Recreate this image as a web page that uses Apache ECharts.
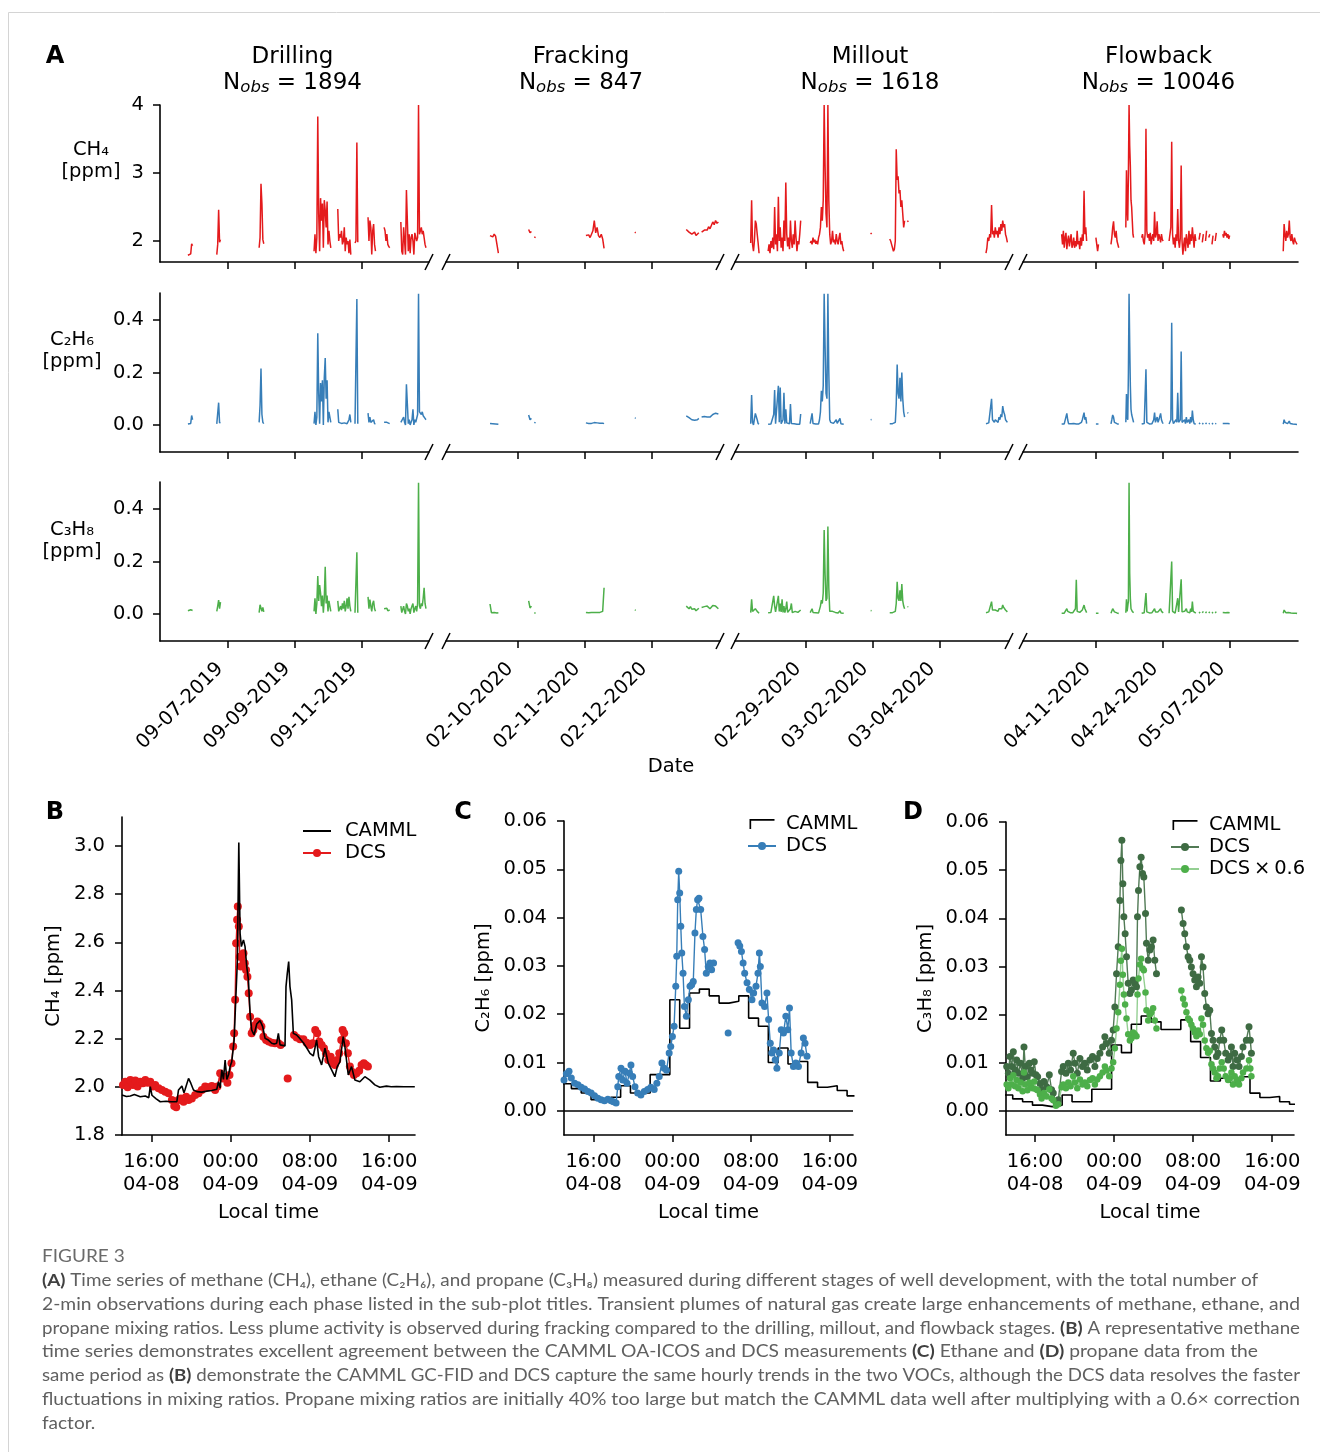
<!DOCTYPE html>
<html>
<head>
<meta charset="utf-8">
<script src="https://cdn.jsdelivr.net/npm/echarts@6/dist/echarts.min.js"></script>
<style>
  html, body { margin: 0; padding: 0; background: #fff; }
  #chart { width: 1320px; height: 1452px; }
</style>
</head>
<body>
<div id="chart"></div>
<script>
// ---------------- Panel A: well-development stages ----------------
const phases = ['Drilling', 'Fracking', 'Millout', 'Flowback'];
const nObs = [1894, 847, 1618, 10046];
const speciesLabels = ['CH₄\n[ppm]', 'C₂H₆\n[ppm]', 'C₃H₈\n[ppm]'];
const speciesColors = ['#e41a1c', '#377eb8', '#4daf4a'];

// visible date window of each stage
const phaseRanges = [
  ['2019-09-04T23:20', '2019-09-13T00:00'],
  ['2020-02-08T22:15', '2020-02-13T00:20'],
  ['2020-02-26T21:05', '2020-03-06T01:30'],
  ['2020-03-27T22:30', '2020-05-20T03:30']
];
const drillingTicks = ['09-07-2019', '09-09-2019', '09-11-2019'];
const frackingTicks = ['02-10-2020', '02-11-2020', '02-12-2020'];
const milloutTicks = ['02-29-2020', '03-02-2020', '03-04-2020'];
const flowbackTicks = ['04-11-2020', '04-24-2020', '05-07-2020'];

// each measurement period: [start, minutes between samples]
const drillingSegs = [
  ['2019-09-05T19:20', 40], ['2019-09-06T16:00', 40], ['2019-09-07T22:20', 40],
  ['2019-09-09T13:40', 40], ['2019-09-10T06:40', 40], ['2019-09-10T19:00', 40],
  ['2019-09-11T04:20', 40], ['2019-09-11T15:50', 40], ['2019-09-12T03:50', 40]
];
const drillingCH4 = [
  [1.79, 1.79, 1.80, 1.81, 1.96, 1.93],
  [1.80, 1.95, 2.46, 1.98, 2.02],
  [1.90, 2.05, 2.84, 2.55, 2.02, 1.96],
  [1.85, 2.10, 1.82, 2.05, 3.83, 2.40, 1.85, 2.63, 2.30, 2.55, 1.90, 2.60, 2.45, 2.20, 2.58, 1.95, 2.15, 2.00, 1.90],
  [2.47, 2.00, 2.10, 2.05, 2.15, 1.95, 2.00, 2.20, 1.85, 2.05, 1.95, 2.00, 1.82, 2.02, 1.80],
  [1.97, 2.00, 3.45, 1.98],
  [2.35, 2.00, 2.30, 2.20, 1.80, 2.15, 2.25, 1.95, 1.85],
  [2.20, 2.15, 2.00, 2.10, 1.95, 1.92, 1.90],
  [2.28, 1.85, 1.80, 2.20, 2.00, 1.80, 2.75, 2.30, 1.85, 2.10, 1.82, 2.05, 2.10, 2.00, 1.80, 2.12, 2.10, 2.00, 2.05, 4.00, 2.10, 2.15, 2.20, 2.10, 2.15, 2.05, 1.95, 1.90]
];
const drillingC2H6 = [
  [0.004, 0.003, 0.004, 0.006, 0.036, 0.020],
  [0.004, 0.010, 0.085, 0.008, 0.010],
  [0.010, 0.075, 0.215, 0.040, 0.010, 0.005],
  [0.005, 0.050, 0.000, 0.030, 0.350, 0.120, 0.005, 0.160, 0.090, 0.170, 0.000, 0.180, 0.255, 0.100, 0.170, 0.010, 0.050, 0.045, 0.010],
  [0.060, 0.010, 0.005, 0.004, 0.006, 0.003, 0.005, 0.008, 0.004, 0.006, 0.005, 0.007, 0.020, 0.040, 0.010],
  [0.005, 0.010, 0.480, 0.005],
  [0.045, 0.010, 0.030, 0.010, 0.005, 0.010, 0.020, 0.005, 0.005],
  [0.010, 0.015, 0.008, 0.010, 0.006, 0.004, 0.005],
  [0.010, 0.005, 0.005, 0.030, 0.010, 0.000, 0.155, 0.080, 0.005, 0.020, 0.000, 0.010, 0.020, 0.060, 0.000, 0.020, 0.010, 0.005, 0.040, 0.500, 0.050, 0.045, 0.040, 0.050, 0.035, 0.030, 0.025, 0.020]
];
const drillingC3H8 = [
  [0.012, 0.015, 0.014, 0.016, 0.018, 0.013],
  [0.010, 0.030, 0.053, 0.020, 0.045],
  [0.005, 0.035, 0.030, 0.010, 0.025, 0.008],
  [0.010, 0.060, 0.000, 0.040, 0.145, 0.050, 0.110, 0.080, 0.030, 0.070, 0.005, 0.060, 0.180, 0.040, 0.070, 0.010, 0.050, 0.030, 0.010],
  [0.050, 0.010, 0.020, 0.030, 0.015, 0.040, 0.020, 0.050, 0.010, 0.030, 0.060, 0.020, 0.065, 0.030, 0.010],
  [0.005, 0.010, 0.235, 0.005],
  [0.065, 0.020, 0.055, 0.030, 0.010, 0.040, 0.050, 0.020, 0.010],
  [0.020, 0.025, 0.015, 0.022, 0.012, 0.010, 0.015],
  [0.030, 0.005, 0.010, 0.030, 0.010, 0.000, 0.040, 0.030, 0.010, 0.020, 0.000, 0.020, 0.030, 0.040, 0.005, 0.020, 0.030, 0.010, 0.040, 0.500, 0.030, 0.020, 0.040, 0.030, 0.060, 0.100, 0.040, 0.020]
];

const frackingSegs = [
  ['2020-02-09T14:00', 30], ['2020-02-10T03:50', 30], ['2020-02-11T00:20', 30],
  ['2020-02-11T17:50', 20], ['2020-02-12T12:15', 30]
];
const frackingCH4 = [
  [2.08, 2.09, 2.06, 2.10, 2.07, 2.09, 1.82],
  [2.17, 2.12, 2.14, null, 2.06, 2.05],
  [2.08, 2.06, 2.09, 2.05, 2.10, 2.15, 2.30, 2.12, 2.20, 2.08, 2.05, 2.10, 2.03, 1.89],
  [2.13, 2.12],
  [2.17, 2.15, 2.13, 2.12, 2.10, 2.11, 2.13, 2.08, 2.09, 2.12, null, 2.13, 2.15, 2.16, 2.14, 2.16, 2.21, 2.18, 2.19, 2.28, 2.24, 2.30, 2.26, 2.28]
];
const frackingC2H6 = [
  [0.006, 0.007, 0.005, 0.006, 0.004, 0.005, 0.003],
  [0.038, 0.020, 0.025, null, 0.010, 0.008],
  [0.008, 0.007, 0.006, 0.007, 0.006, 0.008, 0.009, 0.007, 0.008, 0.006, 0.007, 0.006, 0.007, 0.005],
  [0.027, 0.026],
  [0.035, 0.030, 0.028, 0.025, 0.020, 0.015, 0.018, 0.013, 0.020, 0.025, null, 0.030, 0.028, 0.032, 0.025, 0.030, 0.035, 0.030, 0.032, 0.040, 0.035, 0.045, 0.040, 0.042]
];
const frackingC3H8 = [
  [0.038, 0.005, 0.004, 0.006, 0.005, 0.004, 0.005],
  [0.050, 0.023, 0.030, null, 0.004, 0.004],
  [0.006, 0.007, 0.005, 0.006, 0.006, 0.007, 0.006, 0.007, 0.006, 0.008, 0.006, 0.007, 0.010, 0.100],
  [0.015, 0.014],
  [0.030, 0.025, 0.020, 0.028, 0.018, 0.015, 0.020, 0.012, 0.018, 0.022, null, 0.025, 0.020, 0.028, 0.022, 0.030, 0.025, 0.020, 0.026, 0.032, 0.028, 0.030, 0.025, 0.020]
];

const milloutSegs = [
  ['2020-02-27T08:20', 40], ['2020-02-27T20:50', 40], ['2020-02-29T03:00', 40],
  ['2020-03-01T22:20', 40], ['2020-03-02T12:00', 40], ['2020-03-05T09:00', 40]
];
const milloutCH4 = [
  [1.97, 2.60, 1.95, 1.85, 2.00, 2.30, 2.25, 2.10, 1.97, 1.82],
  [1.85, 1.95, 1.82, 2.00, 1.90, 2.05, 1.88, 2.50, 1.95, 2.10, 1.85, 2.65, 2.00, 2.20, 1.90, 2.05, 1.85, 2.30, 2.00, 2.86, 2.10, 1.92, 2.05, 1.88, 2.30, 2.00, 1.90, 2.10, 1.95, 2.30, 2.05, 1.85, 2.00, 1.95, 2.10, 2.30],
  [1.97, 2.00, 1.95, 2.05, 1.98, 2.02, 1.96, 2.00, 1.95, 2.05, 2.10, 2.20, 2.50, 2.30, 2.60, 4.00, 3.10, 2.40, 2.20, 4.00, 2.60, 2.10, 1.95, 2.00, 2.15, 1.98, 2.02, 1.95, 2.10, 2.00, 1.95, 2.05, 2.12, 1.95, 2.00, 1.90, 1.85],
  [2.12, 2.10],
  [2.03, 2.00, 1.95, 1.90, 1.85, 1.88, 2.00, 3.35, 2.90, 2.95, 2.70, 2.75, 2.50, 2.60, 2.40, 2.20, 2.30, null, null, 2.30, 2.28],
  [1.82, 1.90, 2.05, 2.00, 2.10, 2.05, 2.53, 2.10, 2.15, 2.05, 2.20, 2.10, 2.15, 2.05, 2.20, 2.10, 2.25, 2.15, 2.30, 2.20, 2.25, 2.10, 2.05, 1.98]
];
const milloutC2H6 = [
  [0.005, 0.114, 0.010, 0.000, 0.005, 0.044, 0.040, 0.020, 0.005, 0.003],
  [0.003, 0.005, 0.002, 0.004, 0.003, 0.010, 0.040, 0.133, 0.005, 0.010, 0.003, 0.149, 0.010, 0.143, 0.005, 0.004, 0.020, 0.123, 0.005, 0.060, 0.008, 0.004, 0.003, 0.005, 0.080, 0.006, 0.003, 0.004, 0.005, 0.010, 0.004, 0.003, 0.005, 0.004, 0.003, 0.042],
  [0.005, 0.004, 0.044, 0.006, 0.004, 0.005, 0.004, 0.006, 0.005, 0.004, 0.020, 0.050, 0.130, 0.090, 0.150, 0.500, 0.300, 0.120, 0.100, 0.500, 0.200, 0.020, 0.010, 0.008, 0.010, 0.006, 0.005, 0.008, 0.020, 0.006, 0.005, 0.006, 0.025, 0.005, 0.004, 0.003, 0.003],
  [0.020, 0.021],
  [0.005, 0.004, 0.003, 0.005, 0.004, 0.006, 0.010, 0.080, 0.230, 0.120, 0.100, 0.180, 0.090, 0.200, 0.100, 0.050, 0.030, null, null, 0.047, 0.045],
  [0.005, 0.010, 0.010, 0.008, 0.015, 0.010, 0.100, 0.020, 0.015, 0.010, 0.020, 0.015, 0.020, 0.010, 0.030, 0.020, 0.040, 0.030, 0.072, 0.050, 0.040, 0.020, 0.015, 0.010]
];
const milloutC3H8 = [
  [0.005, 0.056, 0.010, 0.003, 0.005, 0.020, 0.018, 0.010, 0.005, 0.003],
  [0.005, 0.003, 0.004, 0.006, 0.005, 0.010, 0.069, 0.030, 0.008, 0.006, 0.005, 0.069, 0.010, 0.040, 0.008, 0.056, 0.006, 0.030, 0.005, 0.020, 0.047, 0.006, 0.005, 0.004, 0.020, 0.040, 0.005, 0.004, 0.006, 0.010, 0.005, 0.004, 0.006, 0.005, 0.004, 0.015],
  [0.005, 0.004, 0.020, 0.006, 0.005, 0.004, 0.005, 0.006, 0.005, 0.004, 0.010, 0.030, 0.053, 0.040, 0.080, 0.320, 0.150, 0.050, 0.060, 0.333, 0.100, 0.010, 0.006, 0.005, 0.010, 0.006, 0.004, 0.006, 0.010, 0.005, 0.004, 0.005, 0.012, 0.004, 0.005, 0.003, 0.003],
  [0.013, 0.012],
  [0.005, 0.004, 0.003, 0.005, 0.004, 0.006, 0.010, 0.040, 0.123, 0.060, 0.050, 0.090, 0.050, 0.114, 0.050, 0.030, 0.020, null, null, 0.028, 0.027],
  [0.005, 0.010, 0.010, 0.008, 0.012, 0.010, 0.047, 0.015, 0.012, 0.010, 0.015, 0.012, 0.015, 0.010, 0.020, 0.015, 0.025, 0.020, 0.034, 0.025, 0.020, 0.015, 0.010, 0.008]
];

const flowbackSegs = [
  ['2020-04-04T10:00', 240], ['2020-04-11T01:00', 240], ['2020-04-13T23:00', 240],
  ['2020-04-16T20:00', 180], ['2020-04-19T21:30', 240], ['2020-04-25T05:00', 240],
  ['2020-05-01T00:00', 300], ['2020-05-05T14:00', 240], ['2020-05-17T07:00', 240]
];
const flowbackCH4 = [
  [2.10, 1.95, 2.15, 1.90, 2.05, 2.12, 1.88, 2.00, 2.08, 1.92, 2.02, 2.10, 1.90, 1.95, 2.05, 1.90, 2.00, 1.92, 2.15, 1.95, 2.00, 1.88, 2.05, 1.93, 2.10, 2.00, 2.74, 2.10, 2.20, 2.00],
  [2.05, 2.06, 1.85, 1.95],
  [1.95, 2.05, 2.20, 2.29, 2.10, 2.05, 2.15, 2.00, 1.98, 1.90],
  [2.20, 3.04, 2.50, 2.30, 3.00, 4.00, 3.40, 3.10, 2.60, 2.50, 2.30, 2.10, 2.05],
  [2.05, 2.10, 2.00, 1.95, 2.10, 3.65, 2.15, 2.05, 2.10, 2.00, 2.12, 1.95, 2.05, 2.10, 2.00, 2.43, 2.05, 2.10, 2.29, 2.00, 2.10, 2.05, 1.98, 2.10, 2.02, 2.00],
  [2.00, 2.10, 2.20, 3.46, 2.10, 1.95, 2.05, 1.90, 2.10, 2.00, 2.47, 2.00, 1.90, 2.05, 3.11, 2.00, 1.80, 1.95, 2.05, 1.85, 2.10, 2.00, 1.90, 2.15, 1.95, 2.10, 2.00, 2.20, 2.05, 1.90, 2.10, 2.00],
  [2.02, 2.12, null, 1.98, 2.10, null, 2.00, 2.15, null, 2.05, 2.10, null, 1.95, 2.08, null, 2.00, 2.12, null],
  [2.10, 2.05, 2.15, 2.08, 2.12, 2.05, 2.10, 2.03, 2.08],
  [1.85, 2.25, 2.10, 2.00, 2.15, 2.05, 2.10, 2.30, 2.05, 2.00, 2.10, 2.00, 1.95, 2.05, 2.00, 1.98, 1.95]
];
const flowbackC2H6 = [
  [0.004, 0.005, 0.006, 0.004, 0.005, 0.010, 0.044, 0.020, 0.005, 0.004, 0.006, 0.005, 0.004, 0.005, 0.006, 0.004, 0.005, 0.004, 0.006, 0.005, 0.004, 0.005, 0.006, 0.010, 0.020, 0.015, 0.047, 0.020, 0.030, 0.005],
  [0.004, 0.004, 0.003, 0.004],
  [0.004, 0.020, 0.038, 0.030, 0.010, 0.005, 0.015, 0.005, 0.004, 0.003],
  [0.010, 0.118, 0.030, 0.020, 0.200, 0.500, 0.310, 0.150, 0.060, 0.040, 0.030, 0.020, 0.010],
  [0.004, 0.005, 0.004, 0.006, 0.010, 0.212, 0.010, 0.005, 0.006, 0.004, 0.005, 0.006, 0.005, 0.010, 0.020, 0.047, 0.010, 0.015, 0.030, 0.010, 0.020, 0.015, 0.044, 0.020, 0.010, 0.005],
  [0.004, 0.010, 0.020, 0.390, 0.020, 0.005, 0.010, 0.004, 0.020, 0.010, 0.123, 0.010, 0.005, 0.020, 0.280, 0.010, 0.004, 0.010, 0.020, 0.005, 0.030, 0.010, 0.005, 0.020, 0.005, 0.030, 0.010, 0.055, 0.020, 0.005, 0.010, 0.004],
  [0.004, 0.008, null, 0.003, 0.007, null, 0.004, 0.008, null, 0.004, 0.006, null, 0.003, 0.007, null, 0.004, 0.006, null],
  [0.006, 0.005, 0.008, 0.006, 0.007, 0.005, 0.006, 0.004, 0.005],
  [0.003, 0.020, 0.010, 0.005, 0.008, 0.005, 0.006, 0.015, 0.006, 0.004, 0.005, 0.004, 0.003, 0.004, 0.003, 0.003, 0.002]
];
const flowbackC3H8 = [
  [0.003, 0.004, 0.005, 0.003, 0.004, 0.008, 0.020, 0.010, 0.004, 0.003, 0.005, 0.004, 0.003, 0.005, 0.004, 0.006, 0.020, 0.130, 0.010, 0.005, 0.004, 0.006, 0.005, 0.010, 0.015, 0.010, 0.034, 0.020, 0.025, 0.005],
  [0.003, 0.003, 0.002, 0.003],
  [0.003, 0.010, 0.020, 0.015, 0.008, 0.004, 0.010, 0.004, 0.003, 0.002],
  [0.005, 0.056, 0.010, 0.010, 0.050, 0.500, 0.155, 0.060, 0.020, 0.015, 0.010, 0.008, 0.005],
  [0.003, 0.004, 0.003, 0.005, 0.010, 0.080, 0.008, 0.004, 0.005, 0.004, 0.005, 0.004, 0.005, 0.008, 0.010, 0.020, 0.008, 0.010, 0.015, 0.008, 0.010, 0.008, 0.020, 0.010, 0.006, 0.004],
  [0.003, 0.008, 0.010, 0.200, 0.010, 0.004, 0.008, 0.003, 0.010, 0.008, 0.060, 0.008, 0.004, 0.010, 0.132, 0.008, 0.003, 0.006, 0.010, 0.004, 0.020, 0.008, 0.004, 0.010, 0.004, 0.020, 0.008, 0.047, 0.010, 0.004, 0.008, 0.003],
  [0.003, 0.008, null, 0.004, 0.010, null, 0.003, 0.009, null, 0.004, 0.008, null, 0.003, 0.007, null, 0.004, 0.009, null],
  [0.006, 0.004, 0.008, 0.005, 0.007, 0.005, 0.006, 0.004, 0.005],
  [0.003, 0.015, 0.010, 0.005, 0.008, 0.005, 0.006, 0.012, 0.005, 0.004, 0.005, 0.004, 0.003, 0.004, 0.003, 0.003, 0.002]
];

// ---------------- Panels B-D: one day, hours counted from 04-08 00:00 ----------------
const localTicks = [16, 24, 32, 40];
const localTickLabels = ['16:00\n04-08', '00:00\n04-09', '08:00\n04-09', '16:00\n04-09'];

const camlCH4 = [[13.05,1.966],[13.5,1.960],[13.89,1.962],[14.3,1.968],[14.89,1.959],[15.4,1.962],[15.75,1.955],[15.9,2.001],[16.07,1.965],[16.5,1.950],[16.91,1.938],[17.5,1.940],[18.0,1.938],[18.58,1.938],[18.75,1.987],[19.09,2.003],[19.3,1.975],[19.42,1.990],[19.76,2.035],[19.99,2.015],[20.26,1.987],[20.6,1.980],[21.1,1.978],[21.6,1.982],[22.1,1.985],[22.61,1.990],[22.78,2.021],[22.95,1.995],[23.11,2.070],[23.28,2.031],[23.45,2.111],[23.62,2.031],[23.8,2.050],[23.95,2.084],[24.12,2.104],[24.36,2.194],[24.52,2.361],[24.69,2.527],[24.83,3.014],[24.96,2.637],[25.09,2.582],[25.3,2.610],[25.46,2.582],[25.63,2.499],[25.8,2.444],[25.97,2.305],[26.13,2.236],[26.37,2.215],[26.64,2.261],[26.97,2.275],[27.24,2.250],[27.48,2.201],[27.81,2.194],[28.15,2.181],[28.4,2.178],[28.65,2.181],[28.82,2.222],[28.99,2.174],[29.49,2.170],[29.59,2.416],[29.72,2.471],[29.86,2.520],[29.99,2.416],[30.16,2.361],[30.33,2.222],[30.66,2.215],[31.0,2.200],[31.34,2.183],[31.7,2.160],[32.01,2.139],[32.34,2.128],[32.68,2.194],[32.88,2.125],[33.18,2.091],[33.52,2.160],[33.85,2.098],[34.19,2.070],[34.52,2.042],[34.76,2.084],[35.03,2.104],[35.36,2.208],[35.53,2.167],[35.87,2.049],[36.2,2.084],[36.54,2.028],[37.04,2.021],[37.54,2.042],[38.05,2.028],[38.55,2.008],[39.05,1.998],[39.72,2.003],[40.2,2.000],[40.73,2.001],[41.5,2.000],[42.58,2.000]];

const dcsCH4 = [[13.15,2.008],[13.38,2.021],[13.62,1.998],[13.89,2.028],[14.15,2.008],[14.39,2.026],[14.62,2.001],[14.89,2.021],[15.16,2.015],[15.4,2.028],[15.63,2.017],[15.9,2.021],[16.17,2.001],[16.4,2.008],[16.74,1.994],[17.07,1.987],[17.41,1.980],[17.74,1.973],[18.08,1.945],[18.32,1.920],[18.52,1.915],[18.75,1.945],[18.99,1.952],[19.26,1.938],[19.52,1.959],[19.76,1.945],[20.09,1.952],[20.43,1.966],[20.77,1.973],[21.1,1.987],[21.44,2.001],[21.77,1.998],[22.11,2.003],[22.44,1.987],[22.68,2.001],[22.95,2.056],[23.21,2.035],[23.45,2.042],[23.68,2.017],[23.89,2.049],[24.09,2.098],[24.26,2.167],[24.36,2.222],[24.46,2.361],[24.56,2.596],[24.66,2.693],[24.73,2.748],[24.83,2.665],[24.93,2.540],[25.03,2.499],[25.16,2.540],[25.3,2.554],[25.43,2.513],[25.56,2.485],[25.7,2.457],[25.83,2.388],[25.97,2.291],[26.13,2.222],[26.3,2.236],[26.5,2.257],[26.7,2.271],[26.91,2.264],[27.11,2.250],[27.31,2.208],[27.58,2.194],[27.85,2.188],[28.15,2.183],[28.48,2.181],[28.82,2.181],[29.05,2.174],[29.4,null],[29.76,2.035],[30.1,null],[30.4,2.215],[30.66,2.205],[31.0,2.197],[31.34,2.197],[31.67,2.183],[32.01,2.174],[32.28,2.181],[32.54,2.236],[32.74,2.222],[32.95,2.188],[33.18,2.174],[33.42,2.160],[33.62,2.139],[33.85,2.111],[34.09,2.125],[34.29,2.098],[34.52,2.091],[34.76,2.111],[34.96,2.139],[35.16,2.194],[35.3,2.236],[35.46,2.222],[35.63,2.181],[35.83,2.139],[36.03,2.084],[36.23,2.063],[36.44,2.049],[36.7,2.056],[36.97,2.067],[37.21,2.091],[37.44,2.098],[37.64,2.091],[37.85,2.084]];

// hourly GC-FID averages: [hour the average starts, ppm]
const camlC2H6 = [[12.75,0.0056],[13.75,0.0046],[14.75,0.0037],[15.75,0.0023],[16.75,0.0019],[17.75,0.0028],[18.75,0.0052],[19.75,0.0037],[20.75,0.0037],[21.75,0.0075],[22.75,0.0075],[23.75,0.0230],[24.75,0.0171],[25.75,0.0244],[26.75,0.0252],[27.75,0.0238],[28.75,0.0223],[29.75,0.0227],[30.75,0.0238],[31.75,0.0192],[32.75,0.0175],[33.75,0.0100],[34.75,0.0130],[35.75,0.0097],[36.75,0.0102],[37.75,0.0059],[38.75,0.0049],[39.75,0.0052],[40.75,0.0042],[41.75,0.0031],[42.5,0.0031]];

const dcsC2H6 = [[13.0,0.0064],[13.24,0.0077],[13.51,0.0082],[13.74,0.0068],[14.08,0.0057],[14.42,0.0054],[14.75,0.0049],[15.09,0.0045],[15.43,0.0040],[15.76,0.0037],[16.1,0.0031],[16.44,0.0026],[16.77,0.0023],[17.11,0.0021],[17.45,0.0024],[17.78,0.0021],[18.02,0.0019],[18.29,0.0016],[18.46,0.0050],[18.56,0.0071],[18.79,0.0088],[18.96,0.0064],[19.2,0.0082],[19.4,0.0057],[19.64,0.0078],[19.8,0.0095],[19.97,0.0071],[20.21,0.0050],[20.48,0.0037],[20.81,0.0033],[21.15,0.0040],[21.49,0.0044],[21.82,0.0049],[22.16,0.0044],[22.43,0.0057],[22.67,0.0071],[22.94,0.0099],[23.17,0.0088],[23.41,0.0084],[23.68,0.0120],[23.84,0.0133],[24.01,0.0154],[24.18,0.0175],[24.35,0.0258],[24.45,0.0320],[24.55,0.0437],[24.65,0.0496],[24.75,0.0451],[24.86,0.0382],[24.96,0.0327],[25.09,0.0285],[25.23,0.0216],[25.43,0.0196],[25.63,0.0230],[25.8,0.0258],[25.97,0.0261],[26.13,0.0268],[26.3,0.0368],[26.44,0.0417],[26.57,0.0437],[26.71,0.0440],[26.88,0.0417],[27.11,0.0361],[27.28,0.0334],[27.45,0.0285],[27.65,0.0299],[27.82,0.0306],[27.99,0.0292],[28.19,0.0306],[29.0,null],[29.67,0.0161],[30.2,null],[30.68,0.0348],[30.85,0.0341],[31.02,0.0330],[31.19,0.0306],[31.35,0.0285],[31.59,0.0265],[31.82,0.0251],[32.09,0.0230],[32.26,0.0244],[32.5,0.0258],[32.7,0.0285],[32.84,0.0327],[32.94,0.0299],[33.1,0.0223],[33.37,0.0216],[33.61,0.0244],[33.78,0.0189],[33.95,0.0140],[34.11,0.0120],[34.28,0.0126],[34.45,0.0106],[34.62,0.0088],[34.86,0.0120],[35.06,0.0168],[35.29,0.0161],[35.53,0.0196],[35.73,0.0168],[35.9,0.0213],[36.07,0.0120],[36.3,0.0092],[36.54,0.0099],[36.81,0.0092],[37.08,0.0120],[37.31,0.0151],[37.48,0.0140],[37.68,0.0113]];

const camlC3H8 = [[12.75,0.0033],[13.75,0.0025],[14.75,0.0019],[15.75,0.0012],[16.75,0.0009],[17.75,0.0012],[18.75,0.0033],[19.75,0.0019],[20.75,0.0019],[21.75,0.0045],[22.75,0.0045],[23.75,0.0137],[24.75,0.0121],[25.75,0.0180],[26.75,0.0197],[27.75,0.0185],[28.75,0.0169],[29.75,0.0169],[30.75,0.0189],[31.75,0.0144],[32.75,0.0111],[33.75,0.0062],[34.75,0.0068],[35.75,0.0059],[36.75,0.0071],[37.75,0.0037],[38.75,0.0028],[39.75,0.0030],[40.75,0.0019],[41.75,0.0014],[42.3,0.0014]];

const dcsC3H8 = [[13.14,0.0092],[13.31,0.0078],[13.47,0.0113],[13.64,0.0092],[13.81,0.0123],[13.98,0.0085],[14.15,0.0106],[14.32,0.0078],[14.55,0.0099],[14.75,0.0068],[14.89,0.0133],[15.02,0.0092],[15.23,0.0071],[15.43,0.0099],[15.6,0.0085],[15.76,0.0078],[15.93,0.0102],[16.1,0.0075],[16.27,0.0071],[16.51,0.0057],[16.67,0.0044],[16.91,0.0061],[17.18,0.0050],[17.45,0.0075],[17.68,0.0044],[17.85,0.0037],[18.12,0.0019],[18.36,0.0023],[18.69,0.0082],[18.86,0.0092],[19.13,0.0078],[19.37,0.0099],[19.6,0.0085],[19.87,0.0120],[20.04,0.0099],[20.28,0.0078],[20.55,0.0109],[20.81,0.0092],[21.05,0.0099],[21.29,0.0085],[21.56,0.0106],[21.82,0.0113],[22.06,0.0092],[22.3,0.0109],[22.57,0.0120],[22.84,0.0133],[23.07,0.0154],[23.24,0.0140],[23.51,0.0120],[23.74,0.0147],[23.91,0.0168],[24.08,0.0216],[24.25,0.0285],[24.42,0.0341],[24.59,0.0437],[24.69,0.0520],[24.79,0.0562],[24.89,0.0472],[24.99,0.0403],[25.12,0.0368],[25.26,0.0320],[25.43,0.0265],[25.6,0.0244],[25.76,0.0251],[25.93,0.0272],[26.1,0.0265],[26.27,0.0258],[26.37,0.0403],[26.47,0.0458],[26.61,0.0507],[26.74,0.0527],[26.88,0.0493],[27.01,0.0486],[27.18,0.0410],[27.28,0.0348],[27.45,0.0313],[27.62,0.0334],[27.78,0.0341],[27.95,0.0355],[28.12,0.0313],[28.29,0.0285],[29.5,null],[30.81,0.0417],[30.98,0.0389],[31.15,0.0368],[31.32,0.0341],[31.49,0.0320],[31.66,0.0313],[31.82,0.0299],[31.99,0.0285],[32.16,0.0272],[32.33,0.0258],[32.5,0.0278],[32.67,0.0265],[32.84,0.0320],[33.0,0.0299],[33.17,0.0244],[33.34,0.0216],[33.51,0.0202],[33.68,0.0209],[33.85,0.0161],[34.01,0.0147],[34.18,0.0133],[34.35,0.0113],[34.52,0.0120],[34.69,0.0147],[34.89,0.0168],[35.09,0.0147],[35.29,0.0120],[35.53,0.0106],[35.7,0.0113],[35.87,0.0133],[36.03,0.0092],[36.2,0.0120],[36.44,0.0106],[36.64,0.0092],[36.88,0.0113],[37.04,0.0133],[37.38,0.0147],[37.65,0.0175],[37.78,0.0147],[37.89,0.0120]];

// corrected propane (DCS × 0.6), one value per DCS sample time above
const dcsC3H8Corrected = [0.0055,0.0047,0.0068,0.0055,0.0074,0.0051,0.0064,0.0047,0.0059,0.0041,0.0080,0.0055,0.0043,0.0059,0.0051,0.0047,0.0061,0.0045,0.0043,0.0034,0.0026,0.0037,0.0030,0.0045,0.0026,0.0022,0.0011,0.0014,0.0049,0.0055,0.0047,0.0059,0.0051,0.0072,0.0059,0.0047,0.0065,0.0055,0.0059,0.0051,0.0064,0.0068,0.0055,0.0065,0.0072,0.0080,0.0092,0.0084,0.0072,0.0088,0.0101,0.0130,0.0171,0.0205,0.0262,0.0312,0.0337,0.0283,0.0242,0.0221,0.0192,0.0159,0.0146,0.0151,0.0163,0.0159,0.0155,0.0242,0.0275,0.0304,0.0316,0.0296,0.0292,0.0246,0.0209,0.0188,0.0200,0.0205,0.0213,0.0188,0.0171,null,0.0250,0.0233,0.0221,0.0205,0.0192,0.0188,0.0179,0.0171,0.0163,0.0155,0.0167,0.0159,0.0192,0.0179,0.0146,0.0130,0.0121,0.0125,0.0097,0.0088,0.0080,0.0068,0.0072,0.0088,0.0101,0.0088,0.0072,0.0064,0.0068,0.0080,0.0055,0.0072,0.0064,0.0055,0.0068,0.0080,0.0088,0.0105,0.0088,0.0072];

// ---------------- Caption ----------------
const captionHead = 'FIGURE 3';
const captionLines = [
  '**(A)** Time series of methane (CH₄), ethane (C₂H₆), and propane (C₃H₈) measured during different stages of well development, with the total number of',
  '2-min observations during each phase listed in the sub-plot titles. Transient plumes of natural gas create large enhancements of methane, ethane, and',
  'propane mixing ratios. Less plume activity is observed during fracking compared to the drilling, millout, and flowback stages. **(B)** A representative methane',
  'time series demonstrates excellent agreement between the CAMML OA-ICOS and DCS measurements **(C)** Ethane and **(D)** propane data from the',
  'same period as **(B)** demonstrate the CAMML GC-FID and DCS capture the same hourly trends in the two VOCs, although the DCS data resolves the faster',
  'fluctuations in mixing ratios. Propane mixing ratios are initially 40% too large but match the CAMML data well after multiplying with a 0.6× correction',
  'factor.'
];
const captionLineEnds = [1258, 1300, 1300, 1258, 1300, 1300, null];

// ---------------- layout ----------------
const FONT = 'DejaVu Sans';
const INK = '#000';
const colA = [
  { left: 160, width: 269 }, { left: 446, width: 274 },
  { left: 735, width: 274 }, { left: 1023, width: 275 }
];
const rowA = [
  { top: 105, height: 157, min: 1.691, max: 4.0, ticks: [2, 3, 4], digits: 0 },
  { top: 293, height: 159, min: -0.103, max: 0.503, ticks: [0, 0.2, 0.4], digits: 1 },
  { top: 482, height: 159, min: -0.103, max: 0.503, ticks: [0, 0.2, 0.4], digits: 1 }
];
const segsByPhase = [drillingSegs, frackingSegs, milloutSegs, flowbackSegs];
const valsByPhase = [
  [drillingCH4, drillingC2H6, drillingC3H8],
  [frackingCH4, frackingC2H6, frackingC3H8],
  [milloutCH4, milloutC2H6, milloutC3H8],
  [flowbackCH4, flowbackC2H6, flowbackC3H8]
];
const ticksByPhase = [drillingTicks, frackingTicks, milloutTicks, flowbackTicks];

function parseMDY(s) {
  const [m, d, y] = s.split('-').map(Number);
  return new Date(y, m - 1, d).getTime();
}
function buildSeries(segs, vals) {
  const out = [];
  segs.forEach(([start, step], k) => {
    const t0 = new Date(start).getTime();
    vals[k].forEach((v, i) => out.push([t0 + i * step * 60000, v]));
    out.push([t0 + vals[k].length * step * 60000, null]);
  });
  return out;
}
const axisLineStyle = { color: INK, width: 1.6 };
const tickStyle = { color: INK, width: 1.5 };

const grids = [], xAxes = [], yAxes = [], series = [];

for (let r = 0; r < 3; r++) {
  for (let c = 0; c < 4; c++) {
    const idx = grids.length;
    grids.push({ left: colA[c].left, top: rowA[r].top, width: colA[c].width, height: rowA[r].height, outerBoundsMode: 'none' });
    const tickVals = ticksByPhase[c].map(parseMDY);
    const tickText = ticksByPhase[c];
    // millisecond timestamps on a plain numeric axis
    xAxes.push({
      type: 'value', gridIndex: idx, scale: true,
      min: new Date(phaseRanges[c][0]).getTime(), max: new Date(phaseRanges[c][1]).getTime(),
      axisLine: { show: true, onZero: false, lineStyle: axisLineStyle },
      axisTick: { show: true, length: 7, lineStyle: tickStyle, customValues: tickVals },
      axisLabel: {
        show: r === 2, customValues: tickVals, rotate: 45, margin: 17, padding: [0, 11, 0, 0],
        fontSize: 19.5, color: INK, fontFamily: FONT,
        formatter: v => { const i = tickVals.findIndex(t => Math.abs(t - v) < 1000); return i >= 0 ? tickText[i] : ''; }
      },
      splitLine: { show: false }, minorTick: { show: false }
    });
    yAxes.push({
      type: 'value', gridIndex: idx, min: rowA[r].min, max: rowA[r].max, show: c === 0,
      axisLine: { show: true, onZero: false, lineStyle: axisLineStyle },
      axisTick: { show: true, length: 7, lineStyle: tickStyle, customValues: rowA[r].ticks },
      axisLabel: { customValues: rowA[r].ticks, margin: 16, fontSize: 19.5, color: INK, fontFamily: FONT, formatter: v => v.toFixed(rowA[r].digits) },
      splitLine: { show: false }
    });
    series.push({
      type: 'line', name: phases[c] + ' ' + r, xAxisIndex: idx, yAxisIndex: idx,
      data: buildSeries(segsByPhase[c], valsByPhase[c][r]),
      symbol: 'none', showSymbol: false, connectNulls: false, silent: true,
      lineStyle: { color: speciesColors[r], width: 1.5 }, itemStyle: { color: speciesColors[r] }
    });
  }
}

// panels B, C, D
const lowerPanels = [
  { left: 122, top: 817, width: 293, height: 318, xmin: 13.05, xmax: 42.6, ymin: 1.8, ymax: 3.12,
    yticks: [1.8, 2.0, 2.2, 2.4, 2.6, 2.8, 3.0], digits: 1, yname: 'CH₄ [ppm]', nameGap: 58 },
  { left: 564, top: 821, width: 289, height: 314, xmin: 13.0, xmax: 42.35, ymin: -0.005, ymax: 0.06,
    yticks: [0, 0.01, 0.02, 0.03, 0.04, 0.05, 0.06], digits: 2, yname: 'C₂H₆ [ppm]', nameGap: 70 },
  { left: 1006, top: 822, width: 288, height: 313, xmin: 13.07, xmax: 42.2, ymin: -0.005, ymax: 0.06,
    yticks: [0, 0.01, 0.02, 0.03, 0.04, 0.05, 0.06], digits: 2, yname: 'C₃H₈ [ppm]', nameGap: 70 }
];
const lowerIdx = [];
lowerPanels.forEach(p => {
  const idx = grids.length;
  lowerIdx.push(idx);
  grids.push({ left: p.left, top: p.top, width: p.width, height: p.height, outerBoundsMode: 'none' });
  xAxes.push({
    type: 'value', gridIndex: idx, min: p.xmin, max: p.xmax,
    name: 'Local time', nameLocation: 'middle', nameGap: 68,
    nameTextStyle: { fontSize: 19.5, color: INK, fontFamily: FONT },
    axisLine: { show: true, onZero: false, lineStyle: axisLineStyle },
    axisTick: { show: true, length: 7, lineStyle: tickStyle, customValues: localTicks },
    axisLabel: { customValues: localTicks, margin: 15, fontSize: 19.5, lineHeight: 23, color: INK, fontFamily: FONT,
      formatter: v => { const i = localTicks.indexOf(v); return i >= 0 ? localTickLabels[i] : ''; } },
    splitLine: { show: false }
  });
  yAxes.push({
    type: 'value', gridIndex: idx, min: p.ymin, max: p.ymax,
    name: p.yname, nameLocation: 'middle', nameGap: p.nameGap, nameRotate: 90,
    nameTextStyle: { fontSize: 19.5, color: INK, fontFamily: FONT },
    axisLine: { show: true, onZero: false, lineStyle: axisLineStyle },
    axisTick: { show: true, length: 7, lineStyle: tickStyle, customValues: p.yticks },
    axisLabel: { customValues: p.yticks, margin: 17, fontSize: 19.5, color: INK, fontFamily: FONT, formatter: v => v.toFixed(p.digits) },
    splitLine: { show: false }
  });
});

const RED = '#e41a1c', BLUE = '#377eb8', DKGREEN = '#3e6b43', LTGREEN = '#4daf4a';
const zeroLine = {
  silent: true, symbol: ['none', 'none'], label: { show: false },
  lineStyle: { color: INK, width: 1.5, type: 'solid' }, data: [{ yAxis: 0 }]
};

// B
series.push({ type: 'line', name: 'DCS B', xAxisIndex: lowerIdx[0], yAxisIndex: lowerIdx[0], data: dcsCH4,
  symbol: 'circle', symbolSize: 8, showSymbol: true, connectNulls: false, z: 3,
  lineStyle: { color: RED, width: 1.4 }, itemStyle: { color: RED } });
series.push({ type: 'line', name: 'CAMML B', xAxisIndex: lowerIdx[0], yAxisIndex: lowerIdx[0], data: camlCH4,
  symbol: 'none', showSymbol: false, z: 4, lineStyle: { color: INK, width: 1.6 }, itemStyle: { color: INK } });
// C
series.push({ type: 'line', name: 'CAMML C', xAxisIndex: lowerIdx[1], yAxisIndex: lowerIdx[1], data: camlC2H6,
  step: 'end', symbol: 'none', showSymbol: false, z: 2, lineStyle: { color: INK, width: 1.6 }, itemStyle: { color: INK },
  markLine: zeroLine });
series.push({ type: 'line', name: 'DCS C', xAxisIndex: lowerIdx[1], yAxisIndex: lowerIdx[1], data: dcsC2H6,
  symbol: 'circle', symbolSize: 7, showSymbol: true, connectNulls: false, z: 3,
  lineStyle: { color: BLUE, width: 1.4 }, itemStyle: { color: BLUE } });
// D
series.push({ type: 'line', name: 'CAMML D', xAxisIndex: lowerIdx[2], yAxisIndex: lowerIdx[2], data: camlC3H8,
  step: 'end', symbol: 'none', showSymbol: false, z: 2, lineStyle: { color: INK, width: 1.6 }, itemStyle: { color: INK },
  markLine: zeroLine });
series.push({ type: 'line', name: 'DCS D', xAxisIndex: lowerIdx[2], yAxisIndex: lowerIdx[2], data: dcsC3H8,
  symbol: 'circle', symbolSize: 7, showSymbol: true, connectNulls: false, z: 3,
  lineStyle: { color: DKGREEN, width: 1.4, opacity: 0.9 }, itemStyle: { color: DKGREEN } });
series.push({ type: 'line', name: 'DCS\u2009×\u20090.6 D', xAxisIndex: lowerIdx[2], yAxisIndex: lowerIdx[2],
  data: dcsC3H8.map((p, i) => [p[0], dcsC3H8Corrected[i]]),
  symbol: 'circle', symbolSize: 6.5, showSymbol: true, connectNulls: false, z: 3,
  lineStyle: { color: LTGREEN, width: 1.4, opacity: 0.6 }, itemStyle: { color: LTGREEN } });

const lineIcon = 'path://M0,0H30V2.2H0Z';
const stepIcon = 'path://M0,12V0H30V2H2V12Z';
function legendAt(left, top, pad, items) {
  return {
    orient: 'vertical', left, top, padding: 0, itemWidth: 28, itemHeight: 10, itemGap: 0, selectedMode: false,
    formatter: n => n.replace(/ [BCD]$/, ''),
    textStyle: { fontSize: 19.5, color: INK, fontFamily: FONT, lineHeight: 22, padding: [0, 0, 0, pad] },
    data: items
  };
}
const legends = [
  legendAt(302, 820, 9, [{ name: 'CAMML B', icon: lineIcon }, { name: 'DCS B' }]),
  legendAt(747, 813, 5, [{ name: 'CAMML C', icon: stepIcon }, { name: 'DCS C' }]),
  legendAt(1170, 814, 5, [{ name: 'CAMML D', icon: stepIcon }, { name: 'DCS D' }, { name: 'DCS\u2009×\u20090.6 D' }])
];

// ---------------- graphic: frame, panel letters, stage titles, labels, caption ----------------
const graphics = [];
graphics.push({ type: 'polyline', silent: true, shape: { points: [[8.5, 1452], [8.5, 12.5], [1320, 12.5]] },
  style: { stroke: '#d4d4d4', lineWidth: 1, fill: null } });

function txt(x, y, text, extra) {
  return { type: 'text', x, y, silent: true, style: Object.assign({
    text, fontFamily: FONT, fontSize: 19.5, fill: INK, align: 'center', verticalAlign: 'middle'
  }, extra || {}) };
}
[['A', 55, 57], ['B', 55, 813], ['C', 463, 813], ['D', 913, 813]].forEach(([l, x, y]) =>
  graphics.push(txt(x, y, l, { fontSize: 24, fontWeight: 'bold' })));

phases.forEach((name, c) => {
  const cx = colA[c].left + colA[c].width / 2 - 2;
  graphics.push(txt(cx, 70, '{t|' + name + '}\n{t|N}{s|obs}{t| = ' + nObs[c] + '}', {
    fontSize: 23,
    rich: {
      t: { fontSize: 23, fontFamily: FONT, fill: INK, lineHeight: 26 },
      s: { fontSize: 16.5, fontFamily: FONT, fontStyle: 'italic', fill: INK, verticalAlign: 'bottom', lineHeight: 19 }
    }
  }));
});
const rowLabelPos = [[91, 161], [72, 351], [72, 541]];
speciesLabels.forEach((lab, r) => graphics.push(txt(rowLabelPos[r][0], rowLabelPos[r][1], lab, { lineHeight: 22 })));
graphics.push(txt(671, 767, 'Date'));

// axis-break marks at the inner ends of every bottom spine
rowA.forEach(row => {
  const y = row.top + row.height;
  colA.forEach((col, c) => {
    const ends = [];
    if (c > 0) ends.push(col.left);
    if (c < colA.length - 1) ends.push(col.left + col.width);
    ends.forEach(x => graphics.push({ type: 'line', silent: true,
      shape: { x1: x - 4, y1: y + 8, x2: x + 4, y2: y - 8 }, style: { stroke: INK, lineWidth: 1.5 } }));
  });
});

// caption, each line condensed to its measured extent
const CAP_FONT = 'Lato', CAP_SIZE = 17, CAP_LEFT = 42;
const mctx = document.createElement('canvas').getContext('2d');
function measure(s, weight) { mctx.font = weight + ' ' + CAP_SIZE + 'px ' + CAP_FONT; return mctx.measureText(s).width; }
const capRich = {
  r: { fontFamily: CAP_FONT, fontSize: CAP_SIZE, fill: '#606060' },
  b: { fontFamily: CAP_FONT, fontSize: CAP_SIZE, fontWeight: 'bold', fill: '#404040' }
};
const scales = [];
const capParts = captionLines.map(line => {
  const parts = line.split(/\*\*(.*?)\*\*/).map((s, i) => ({ s, b: i % 2 === 1 })).filter(p => p.s.length);
  const w = parts.reduce((a, p) => a + measure(p.s, p.b ? 'bold' : 'normal'), 0);
  return { parts, w };
});
capParts.forEach((cp, i) => { if (captionLineEnds[i]) scales.push((captionLineEnds[i] - CAP_LEFT) / cp.w); });
const meanScale = scales.reduce((a, b) => a + b, 0) / scales.length;
capParts.forEach((cp, i) => {
  const s = captionLineEnds[i] ? (captionLineEnds[i] - CAP_LEFT) / cp.w : meanScale;
  graphics.push({ type: 'text', x: CAP_LEFT, y: 1279 + i * 23.8 + 1.5, scaleX: s, silent: true,
    style: { text: cp.parts.map(p => '{' + (p.b ? 'b' : 'r') + '|' + p.s + '}').join(''), rich: capRich,
      fontFamily: CAP_FONT, fontSize: CAP_SIZE, align: 'left', verticalAlign: 'middle' } });
});
graphics.push({ type: 'text', x: CAP_LEFT, y: 1256.5, scaleX: meanScale, silent: true,
  style: { text: captionHead, fontFamily: CAP_FONT, fontSize: CAP_SIZE, fill: '#6a6a6a', align: 'left', verticalAlign: 'middle' } });

const chart = echarts.init(document.getElementById('chart'));
chart.setOption({
  animation: false,
  backgroundColor: '#fff',
  textStyle: { fontFamily: FONT },
  grid: grids, xAxis: xAxes, yAxis: yAxes, series,
  legend: legends,
  graphic: { elements: graphics }
});
</script>
</body>
</html>
